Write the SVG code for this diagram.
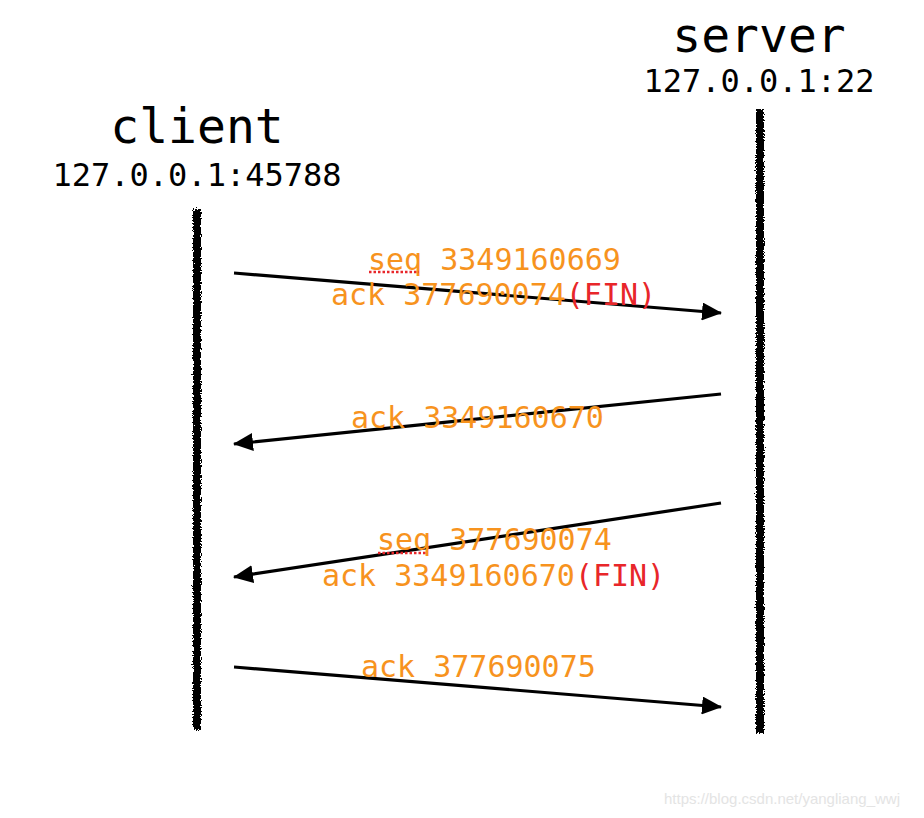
<svg xmlns="http://www.w3.org/2000/svg" width="924" height="818" viewBox="0 0 924 818">
<style>
.title{font-family:"DejaVu Sans Mono","Liberation Mono",monospace;fill:#000;}
.lbl{font-family:"DejaVu Sans Mono","Liberation Mono",monospace;font-size:30px;fill:#F7931E;}
.fin{fill:#E8262A;}
.life{fill:#000;filter:url(#rough);}
.msg{stroke:#000;stroke-width:3.2;fill:none;marker-end:url(#ah);}
.spell{stroke:#E8262A;stroke-width:2.5;stroke-dasharray:2.5 2;fill:none;}
.wm{font-family:"Liberation Sans",Arial,sans-serif;font-size:15px;fill:#e4e4e4;}
</style>
<defs>
<filter id="rough" filterUnits="userSpaceOnUse" x="0" y="0" width="924" height="818">
<feTurbulence type="fractalNoise" baseFrequency="0.7" numOctaves="2" seed="3" result="n"/>
<feDisplacementMap in="SourceGraphic" in2="n" scale="5" xChannelSelector="R" yChannelSelector="G"/>
</filter>
<marker id="ah" viewBox="0 0 20 18" refX="19" refY="9" markerWidth="20" markerHeight="18" markerUnits="userSpaceOnUse" orient="auto">
<path d="M0,0 L20,9 L0,18 Z" fill="#000"/>
</marker>
</defs>
<rect width="924" height="818" fill="#fff"/>
<g id="client">
<text class="title" x="197" y="143" font-size="48" text-anchor="middle">client</text>
<text class="title" x="197" y="186" font-size="32" text-anchor="middle">127.0.0.1:45788</text>
<rect class="life" x="193" y="209" width="8" height="521"/>
</g>
<g id="server">
<text class="title" x="759" y="52" font-size="48" text-anchor="middle">server</text>
<text class="title" x="759" y="92" font-size="32" text-anchor="middle">127.0.0.1:22</text>
<rect class="life" x="756" y="109" width="8" height="624"/>
</g>
<g id="connectors">
<line class="msg" x1="234" y1="273" x2="721" y2="313"/>
<line class="msg" x1="721" y1="394" x2="234" y2="444"/>
<line class="msg" x1="721" y1="503" x2="234" y2="577"/>
<line class="msg" x1="234" y1="667" x2="721" y2="707"/>
</g>
<g id="labels">
<text class="lbl" x="368" y="270">seq 3349160669</text>
<path class="spell" d="M369,272 L419,272"/>
<text class="lbl" x="331" y="305">ack 377690074<tspan class="fin">(FIN)</tspan></text>
<text class="lbl" x="351" y="428">ack 3349160670</text>
<text class="lbl" x="377" y="550">seq 377690074</text>
<path class="spell" d="M378,553 L427,553"/>
<text class="lbl" x="322" y="586">ack 3349160670<tspan class="fin">(FIN)</tspan></text>
<text class="lbl" x="361" y="677">ack 377690075</text>
</g>
<text class="wm" x="664" y="804">https://blog.csdn.net/yangliang_wwj</text>
</svg>
